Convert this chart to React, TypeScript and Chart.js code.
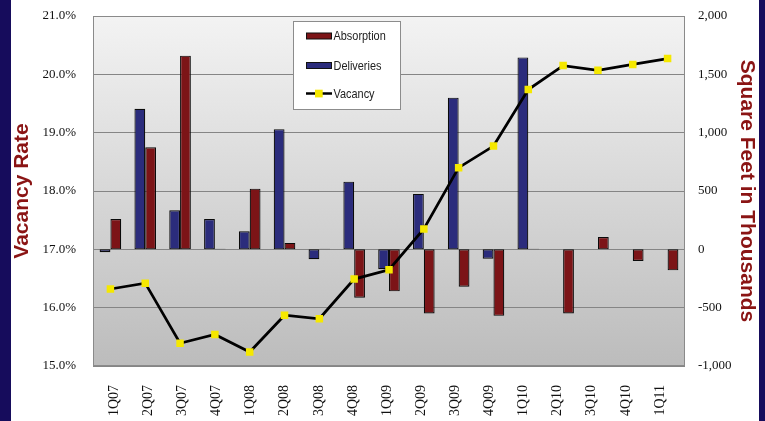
import React, { useEffect, useRef } from 'react';
import { Chart, registerables } from 'chart.js';

Chart.register(...registerables);

// ---- Data ----
const categories = ['1Q07', '2Q07', '3Q07', '4Q07', '1Q08', '2Q08', '3Q08', '4Q08', '1Q09', '2Q09', '3Q09', '4Q09', '1Q10', '2Q10', '3Q10', '4Q10', '1Q11'];
const deliveries = [-25, 1205, 335, 260, 155, 1030, -85, 580, -170, 475, 1300, -80, 1645, null, null, null, null];
const absorption = [260, 875, 1660, 6, 520, 55, 6, -415, -360, -550, -320, -570, 6, -550, 105, -100, -180];
const vacancy = [16.32, 16.42, 15.39, 15.54, 15.24, 15.87, 15.81, 16.49, 16.65, 17.35, 18.4, 18.77, 19.74, 20.15, 20.07, 20.17, 20.27];

const rateMin = 15;
const rateMax = 21;
const rateStep = 1;
const sqftMin = -1000;
const sqftMax = 2000;
const sqftStep = 500;

const seriesLabels = ['Deliveries', 'Absorption', 'Vacancy'];
const legendOrder = [1, 0, 2];

// ---- Styles ----
const NAVY = '#160c5c';
const TITLE_RED = '#8a1414';
const BLUE = '#2b2c7c';
const RED = '#7c1417';
const YELLOW = '#f5e800';
const SERIF = "'Liberation Serif', 'Times New Roman', serif";
const SANS = "'Liberation Sans', Arial, sans-serif";

const decorPlugin = {
  id: 'decor',
  beforeDraw(chart: any) {
    const { ctx, chartArea: a } = chart;
    const g = ctx.createLinearGradient(0, a.top, 0, a.bottom);
    g.addColorStop(0, '#f3f3f3');
    g.addColorStop(1, '#bcbcbc');
    ctx.save();
    ctx.fillStyle = g;
    ctx.fillRect(a.left, a.top, a.right - a.left, a.bottom - a.top);
    ctx.restore();
  },
  afterDraw(chart: any) {
    const { ctx, chartArea: a } = chart;
    ctx.save();
    // plot frame
    ctx.strokeStyle = '#8a8a8a';
    ctx.lineWidth = 1;
    ctx.strokeRect(Math.round(a.left) + 0.5, Math.round(a.top) + 0.5, Math.round(a.right - a.left) - 1, Math.round(a.bottom - a.top) - 1);

    // legend box
    const bx = 282.5, by = 21.5, bw = 107, bh = 88;
    ctx.fillStyle = '#ffffff';
    ctx.fillRect(bx, by, bw, bh);
    ctx.strokeStyle = '#8c8c8c';
    ctx.strokeRect(bx, by, bw, bh);

    const rowY = [36, 65.5, 93.5];
    ctx.font = `13px ${SANS}`;
    ctx.textBaseline = 'middle';
    ctx.textAlign = 'left';
    legendOrder.forEach((di, i) => {
      const ds = chart.data.datasets[di];
      const y = rowY[i];
      if (ds.type === 'line') {
        ctx.strokeStyle = '#000';
        ctx.lineWidth = 2.5;
        ctx.beginPath();
        ctx.moveTo(295, y);
        ctx.lineTo(321, y);
        ctx.stroke();
        ctx.fillStyle = YELLOW;
        ctx.fillRect(304, y - 3.8, 7.7, 7.7);
      } else {
        ctx.fillStyle = ds.backgroundColor;
        ctx.fillRect(295.5, y - 3, 25, 6);
        ctx.strokeStyle = '#111';
        ctx.lineWidth = 1;
        ctx.strokeRect(295.5, y - 3, 25, 6);
      }
      ctx.save();
      ctx.translate(322.5, y + 0.5);
      ctx.scale(0.84, 1);
      ctx.fillStyle = '#222';
      ctx.fillText(ds.label, 0, 0);
      ctx.restore();
    });
    ctx.restore();
  },
};

export default function App() {
  const ref = useRef<HTMLCanvasElement>(null);

  useEffect(() => {
    document.body.style.margin = '0';
    document.body.style.background = NAVY;
    const canvas = ref.current;
    if (!canvas) return;

    const chart = new Chart(canvas, {
      type: 'bar',
      data: {
        labels: categories,
        datasets: [
          {
            type: 'bar',
            label: seriesLabels[0],
            data: deliveries,
            yAxisID: 'y1',
            backgroundColor: BLUE,
            borderColor: '#0a0a0a',
            borderWidth: 1.2,
            borderSkipped: false,
            categoryPercentage: 0.62,
            barPercentage: 1.0,
            order: 1,
          },
          {
            type: 'bar',
            label: seriesLabels[1],
            data: absorption,
            yAxisID: 'y1',
            backgroundColor: RED,
            borderColor: '#0a0a0a',
            borderWidth: 1.2,
            borderSkipped: false,
            categoryPercentage: 0.62,
            barPercentage: 1.0,
            order: 1,
          },
          {
            type: 'line',
            label: seriesLabels[2],
            data: vacancy,
            yAxisID: 'y',
            borderColor: '#000',
            borderWidth: 2.75,
            tension: 0,
            pointStyle: 'rect',
            pointRadius: 5.3,
            pointBackgroundColor: YELLOW,
            pointBorderColor: YELLOW,
            pointBorderWidth: 0,
            order: 0,
          },
        ],
      } as any,
      options: {
        responsive: false,
        animation: false,
        events: [],
        layout: { padding: { top: 16, left: 0, right: 0, bottom: 0 } },
        plugins: {
          legend: { display: false },
          tooltip: { enabled: false },
        },
        scales: {
          x: {
            type: 'category',
            display: false,
            offset: true,
            grid: { display: false },
          },
          xl: {
            type: 'linear',
            position: 'bottom',
            min: -0.11,
            max: 16.221,
            grid: { display: false, drawTicks: false },
            border: { display: false },
            afterFit: (s: any) => { s.height = 55; s.paddingLeft = 0; s.paddingRight = 0; },
            ticks: {
              stepSize: 1,
              includeBounds: false,
              autoSkip: false,
              minRotation: 90,
              maxRotation: 90,
              padding: 19,
              color: '#111',
              font: { family: SERIF, size: 14 },
              callback: (v: any) => (Number.isInteger(v) && categories[v] !== undefined ? categories[v] : ''),
            },
          },
          y: {
            position: 'left',
            min: rateMin,
            max: rateMax,
            grid: { color: '#858585', lineWidth: 1, drawTicks: false },
            border: { display: false },
            afterFit: (s: any) => { s.width = 82; s.paddingTop = 0; s.paddingBottom = 0; },
            ticks: {
              stepSize: rateStep,
              padding: 17,
              color: '#111',
              font: { family: SERIF, size: 13 },
              callback: (v: any) => Number(v).toFixed(1) + '%',
            },
            title: {
              display: true,
              text: 'Vacancy Rate',
              color: TITLE_RED,
              padding: 0,
              font: { family: SANS, size: 21, weight: 'bold', lineHeight: 1.05 },
            },
          },
          y1: {
            position: 'right',
            min: sqftMin,
            max: sqftMax,
            grid: { display: false, drawTicks: false },
            border: { display: false },
            afterFit: (s: any) => { s.width = 74; s.paddingTop = 0; s.paddingBottom = 0; },
            ticks: {
              stepSize: sqftStep,
              padding: 13,
              color: '#111',
              font: { family: SERIF, size: 13 },
              callback: (v: any) => Number(v).toLocaleString('en-US'),
            },
            title: {
              display: true,
              text: 'Square Feet in Thousands',
              color: TITLE_RED,
              padding: 0,
              font: { family: SANS, size: 21, weight: 'bold', lineHeight: 1.2 },
            },
          },
        },
      } as any,
      plugins: [decorPlugin],
    });

    return () => chart.destroy();
  }, []);

  return (
    <div style={{ position: 'relative', width: 765, height: 421, background: NAVY, overflow: 'hidden' }}>
      <div style={{ position: 'absolute', left: 11, top: 0, width: 748, height: 421, background: '#ffffff' }}>
        <canvas ref={ref} width={748} height={421} style={{ display: 'block', width: 748, height: 421 }} />
      </div>
    </div>
  );
}
